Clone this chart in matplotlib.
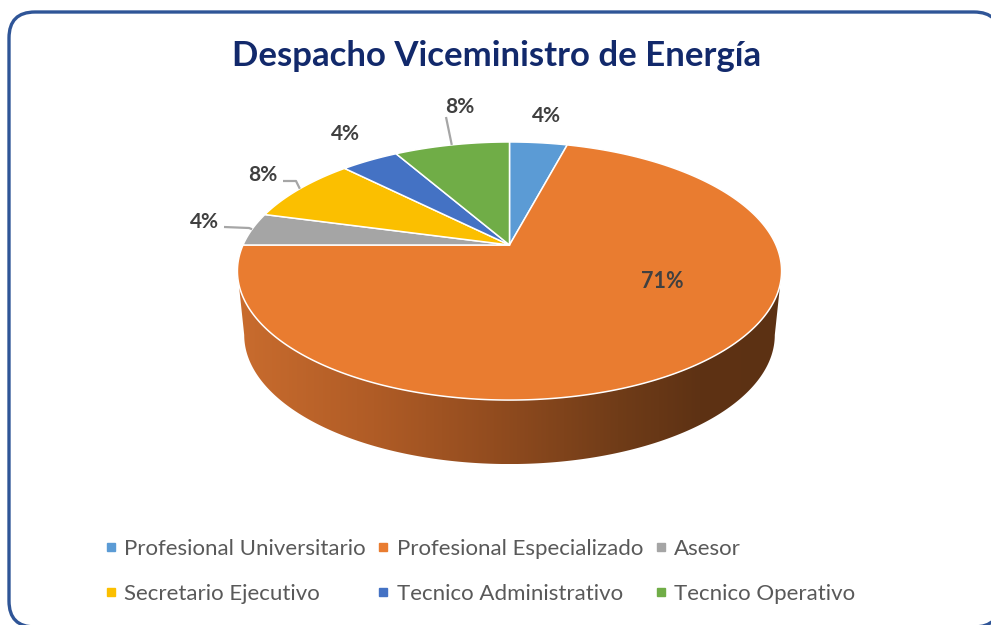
import numpy as np
import matplotlib
matplotlib.use("Agg")
import matplotlib.pyplot as plt
from matplotlib.patches import Polygon, FancyBboxPatch
from matplotlib.lines import Line2D

# ---------------- data ----------------
title = "Despacho Viceministro de Energía"
categories = ["Profesional Universitario", "Profesional Especializado", "Asesor",
              "Secretario Ejecutivo", "Tecnico Administrativo", "Tecnico Operativo"]
counts = [1, 17, 1, 2, 1, 2]
colors = ["#5B9BD5", "#E97C30", "#A5A5A5", "#FBBF00", "#4472C4", "#70AD47"]

# ---------------- layout (pixels) ----------------
W, H = 991, 625
CX, CY = 509.5, 245.0          # apex of the pie on screen
A, B, K = 266.5, 123.8, 0.2016  # perspective ellipse parameters
THICK, SHRINK = 64.0, 0.975     # side depth
label_xy = [(546, 116), (662, 281), (204, 222), (263, 175), (345, 134), (460, 107)]
leader_pts = {2: [(224, 227), (249, 228)], 3: [(283, 181), (296, 181)], 5: [(446, 117)]}

plt.rcParams["font.family"] = ["Lato", "DejaVu Sans"]

fig = plt.figure(figsize=(W / 100, H / 100), dpi=100)
ax = fig.add_axes([0, 0, 1, 1])
ax.set_xlim(0, W)
ax.set_ylim(H, 0)
ax.axis("off")


def proj(phi_deg, r=1.0):
    p = np.radians(phi_deg)
    x = r * np.sin(p)
    d = r * np.cos(p)
    den = 1 + K * d
    return CX + A * x / den, CY - B * d / den


def bottom(X, Y):
    return CX + SHRINK * (np.asarray(X) - CX), np.asarray(Y) + THICK


# chart border (runs off the right and bottom edges like the reference)
border = FancyBboxPatch((9, 12), 991, 615, boxstyle="round,pad=0,rounding_size=26",
                        fc="white", ec="#2F5597", lw=2.4, zorder=0)
ax.add_patch(border)

total = sum(counts)
angles = np.cumsum([0] + [360 * c / total for c in counts])

# side of the cylinder (front visible arc)
phi_r = np.degrees(np.arccos(-K))
phi_l = 360 - phi_r
ph = np.linspace(phi_r, phi_l, 300)
tx, ty = proj(ph)
bx, by = bottom(tx, ty)
side_xy = np.column_stack([np.concatenate([tx, bx[::-1]]), np.concatenate([ty, by[::-1]])])
side = Polygon(side_xy, closed=True, fc="none", ec="none", zorder=1)
ax.add_patch(side)
stops_x = [0.0, 0.25, 0.5, 0.7, 0.85, 1.0]
stops_c = np.array([[201, 108, 46], [176, 92, 38], [142, 74, 30], [112, 60, 24],
                    [94, 50, 20], [92, 49, 19]]) / 255.0
g = np.linspace(0, 1, 400)
grad = np.stack([np.interp(g, stops_x, stops_c[:, i]) for i in range(3)], axis=-1)[None, :, :]
x0, x1 = side_xy[:, 0].min(), side_xy[:, 0].max()
y0, y1 = side_xy[:, 1].min(), side_xy[:, 1].max()
im = ax.imshow(grad, extent=(x0, x1, y1, y0), aspect="auto", zorder=1, interpolation="bilinear")
im.set_clip_path(side)
ax.set_xlim(0, W)
ax.set_ylim(H, 0)

# top face wedges
for i, c in enumerate(counts):
    ph = np.linspace(angles[i], angles[i + 1], max(int(angles[i + 1] - angles[i]) * 2, 10))
    px, py = proj(ph)
    xy = np.column_stack([np.concatenate([[CX], px]), np.concatenate([[CY], py])])
    ax.add_patch(Polygon(xy, closed=True, fc=colors[i], ec="white", lw=1.1, zorder=2,
                         joinstyle="round"))

# data labels
for i, c in enumerate(counts):
    txt = f"{round(100 * c / total)}%"
    lx, ly = label_xy[i]
    ax.text(lx, ly, txt, ha="center", va="center", fontsize=15.5 if c == max(counts) else 15,
            fontweight="bold", color="#404040", zorder=4)
    if i in leader_pts:
        mid = (angles[i] + angles[i + 1]) / 2
        ex, ey = proj(mid)
        pts = leader_pts[i] + [(ex, ey)]
        ax.plot([p[0] for p in pts], [p[1] for p in pts], color="#A6A6A6", lw=1.6,
                zorder=3, solid_capstyle="butt")

# title
ax.text(497, 56, title, ha="center", va="center", fontsize=25, fontweight="bold",
        color="#12296B", zorder=4)

# legend (row-major order)
handles = [Line2D([], [], marker="s", color=c, linestyle="None", markersize=5.5) for c in colors]
order = [0, 3, 1, 4, 2, 5]
leg = fig.legend([handles[i] for i in order], [categories[i] for i in order],
                 loc="upper left", bbox_to_anchor=(104 / W, 1 - 539 / H), ncol=3,
                 frameon=False, fontsize=16, handlelength=0.6, handletextpad=0.3,
                 columnspacing=0.5, labelspacing=1.12, borderpad=0, borderaxespad=0)
for t in leg.get_texts():
    t.set_color("#595959")

fig.savefig("out.png", dpi=100)
